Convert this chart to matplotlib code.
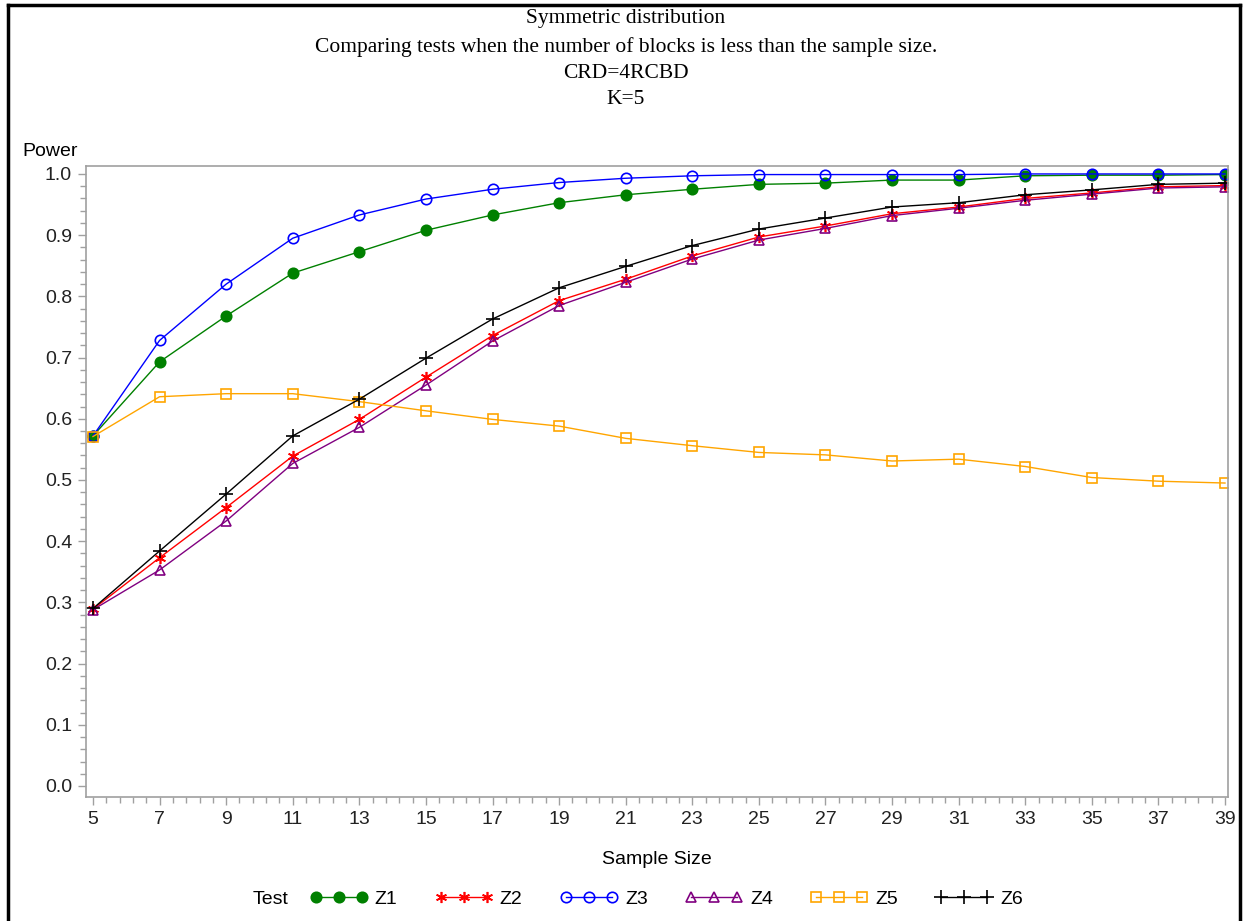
import matplotlib
matplotlib.use("Agg")
import matplotlib.pyplot as plt
from matplotlib.lines import Line2D
from matplotlib.ticker import MultipleLocator, FormatStrFormatter

# ---------- data ----------
sample_size = [5, 7, 9, 11, 13, 15, 17, 19, 21, 23, 25, 27, 29, 31, 33, 35, 37, 39]

z1 = [0.572, 0.693, 0.768, 0.838, 0.873, 0.908, 0.933, 0.953, 0.966, 0.975,
      0.983, 0.985, 0.990, 0.990, 0.997, 0.998, 0.998, 0.999]
z2 = [0.289, 0.373, 0.455, 0.539, 0.599, 0.668, 0.736, 0.793, 0.828, 0.866,
      0.897, 0.915, 0.935, 0.946, 0.960, 0.969, 0.979, 0.981]
z3 = [0.572, 0.728, 0.820, 0.895, 0.933, 0.959, 0.975, 0.986, 0.993, 0.997,
      0.999, 0.999, 0.999, 0.999, 1.000, 1.000, 1.000, 1.000]
z4 = [0.288, 0.353, 0.433, 0.527, 0.586, 0.655, 0.727, 0.785, 0.823, 0.861,
      0.892, 0.911, 0.932, 0.944, 0.957, 0.967, 0.977, 0.979]
z5 = [0.571, 0.636, 0.641, 0.641, 0.628, 0.613, 0.599, 0.588, 0.568, 0.556,
      0.545, 0.541, 0.531, 0.534, 0.522, 0.504, 0.498, 0.495]
z6 = [0.290, 0.384, 0.477, 0.572, 0.632, 0.699, 0.763, 0.814, 0.849, 0.883,
      0.910, 0.928, 0.946, 0.953, 0.966, 0.974, 0.983, 0.985]

tests = ["Z1", "Z2", "Z3", "Z4", "Z5", "Z6"]
title_lines = ["Symmetric distribution",
               "Comparing tests when the number of blocks is less than the sample size.",
               "CRD=4RCBD",
               "K=5"]
title_y = [19, 47, 74, 100]  # pixel rows of the title lines

# style for each test: colour, marker, filled?
styles = {
    "Z1": ("#008000", "o", True),
    "Z2": ("#FF0000", (6, 2, 0), True),
    "Z3": ("#0000FF", "o", False),
    "Z4": ("#800080", "^", False),
    "Z5": ("#FFA500", "s", False),
    "Z6": ("#000000", "+", True),
}

W, H = 1244, 921
sans = "Liberation Sans"
serif = "Liberation Serif"
axis_grey = "#A0A0A0"
fs = 14


def main():
    fig = plt.figure(figsize=(W / 100, H / 100), dpi=100)
    ax = fig.add_axes([86 / W, 1 - 797 / H, (1228 - 86) / W, (797 - 166) / H])

    handles = []
    for name, ys in zip(tests, [z1, z2, z3, z4, z5, z6]):
        col, mk, filled = styles[name]
        ms = 10 if mk == "+" else (8 if mk == (6, 2, 0) else 7.5)
        ln, = ax.plot(sample_size, ys, color=col, lw=1.0, marker=mk, markersize=ms,
                      markerfacecolor=col if filled else "none",
                      markeredgecolor=col, markeredgewidth=1.2, label=name)
        handles.append(ln)

    ax.set_xlim(4.79, 39.09)
    ax.set_ylim(-0.018, 1.013)
    ax.set_xticks(sample_size)
    ax.xaxis.set_minor_locator(MultipleLocator(0.4, offset=0.2))
    ax.yaxis.set_major_locator(MultipleLocator(0.1))
    ax.yaxis.set_minor_locator(MultipleLocator(0.02))
    ax.yaxis.set_major_formatter(FormatStrFormatter("%.1f"))

    for sp in ax.spines.values():
        sp.set_color(axis_grey)
        sp.set_linewidth(1.2)
    ax.tick_params(which="major", length=6, width=1, color=axis_grey,
                   labelsize=fs, labelcolor="#222222", pad=4)
    ax.tick_params(which="minor", length=4, width=1, color=axis_grey)
    for lab in ax.get_xticklabels() + ax.get_yticklabels():
        lab.set_fontfamily(sans)

    # titles
    for t, yp in zip(title_lines, title_y):
        fig.text(626 / W, 1 - yp / H, t, ha="center", va="center",
                 fontsize=15.5, family=serif)

    fig.text(22 / W, 1 - 152 / H, "Power", ha="left", va="center",
             fontsize=fs, family=sans)
    fig.text(657 / W, 1 - 859 / H, "Sample Size", ha="center", va="center",
             fontsize=fs, family=sans)

    # legend row
    fig.text(253 / W, 1 - 899 / H, "Test", ha="left", va="center",
             fontsize=fs, family=sans)
    fig.legend(handles=handles, loc="center left",
               bbox_to_anchor=(306 / W, 1 - 899 / H), ncol=6, frameon=False,
               numpoints=3, handlelength=2.97, handletextpad=0.37,
               columnspacing=1.92, borderpad=0.2, borderaxespad=0,
               prop={"family": sans, "size": fs})

    # outer frame of the picture
    for xs, ys in [((8 / W, 8 / W), (0, 1 - 5 / H)),
                   ((8 / W, 1240 / W), (1 - 5 / H, 1 - 5 / H)),
                   ((1240 / W, 1240 / W), (0, 1 - 5 / H))]:
        fig.add_artist(Line2D(xs, ys, transform=fig.transFigure, color="black", lw=2.5))

    fig.savefig("out.png", dpi=100)


if __name__ == "__main__":
    main()
